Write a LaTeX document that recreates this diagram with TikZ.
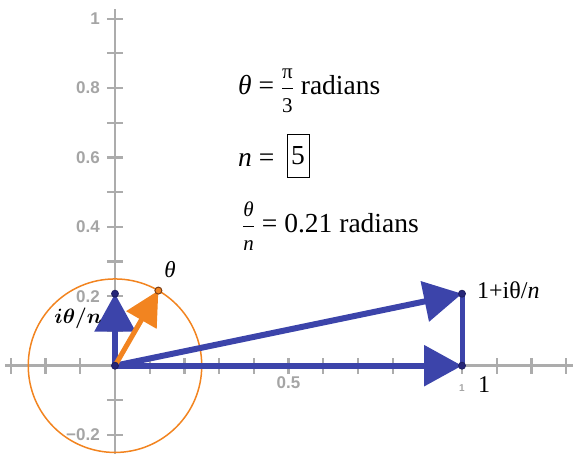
\documentclass[tikz,border=0pt]{standalone}
\usepackage{fontspec}
\usepackage{amsmath}
\setmainfont{Liberation Serif}
\newfontfamily\tnr{Liberation Serif}
\newfontfamily\axisfont{Liberation Sans}
\usetikzlibrary{arrows.meta}
\definecolor{vblue}{RGB}{60,68,170}
\definecolor{vdot}{RGB}{38,38,120}
\definecolor{vorange}{RGB}{242,132,32}
\definecolor{odot}{RGB}{120,60,20}
\definecolor{axgray}{RGB}{172,172,172}
\definecolor{labgray}{RGB}{165,165,165}
\newcommand{\fr}[2]{$\dfrac{\text{\tnr\fontsize{21}{23}\selectfont #1}}{\text{\tnr\fontsize{21}{23}\selectfont #2}}$}
\tikzset{
  axisline/.style={draw=axgray, line width=2.6pt},
  tickmark/.style={draw=axgray, line width=2.2pt},
  axlabel/.style={text=labgray, font=\axisfont\bfseries\fontsize{17}{19}\selectfont, inner sep=0pt},
  vec/.style={draw=vblue, line width=6pt, -{Triangle[length=38pt,width=40pt]}},
  seg/.style={draw=vblue, line width=5pt},
  ovec/.style={draw=vorange, line width=5pt, -{Triangle[length=34pt,width=34pt]}},
  bdot/.style={circle, fill=vdot, draw=vdot!80!black, line width=0.8pt, minimum size=7pt, inner sep=0pt},
  odotst/.style={circle, fill=vorange, draw=odot, line width=1pt, minimum size=7pt, inner sep=0pt},
  bigtext/.style={anchor=base west, inner sep=0pt, font=\tnr\fontsize{27.5}{31}\selectfont},
  lbl/.style={inner sep=0pt, font=\tnr\fontsize{24}{28}\selectfont}
}
\begin{document}
\begin{tikzpicture}
\useasboundingbox (-115pt,-88.3pt) rectangle (458pt,365.7pt);
% axes
\draw[axisline] (-110pt,0pt) -- (458pt,0pt);
\draw[axisline] (0pt,-88.3pt) -- (0pt,357pt);
\foreach \i in {-3,...,13} \draw[tickmark] (\i*34.7pt,-8pt) -- (\i*34.7pt,8pt);
\foreach \j in {-2,...,10} \draw[tickmark] (-8pt,\j*34.7pt) -- (8pt,\j*34.7pt);
% axis labels
\node[axlabel, anchor=east] (y1) at (-15pt,347pt) {1};
\node[axlabel, anchor=east] (y08) at (-15pt,277.6pt) {0.8};
\node[axlabel, anchor=east] (y06) at (-15pt,208.2pt) {0.6};
\node[axlabel, anchor=east] (y04) at (-15pt,138.8pt) {0.4};
\node[axlabel, anchor=east] (y02) at (-15pt,69.4pt) {0.2};
\node[axlabel, anchor=east] (ym02) at (-15pt,-69.4pt) {−0.2};
\node[axlabel] (x05) at (173.5pt,-17pt) {0.5};
\node[text=labgray, font=\axisfont\bfseries\fontsize{10}{12}\selectfont, inner sep=0pt] (x1) at (347pt,-22pt) {1};
% points
\coordinate (O) at (0pt,0pt);
\coordinate (A) at (0pt,72pt);
\coordinate (B) at (347pt,0pt);
\coordinate (C) at (347pt,72pt);
\coordinate (P) at (60:86.75pt);
% circle
\draw[vorange, line width=1.5pt] (O) circle (86.75pt);
% vectors
\draw[vec] (O) -- (B);
\draw[vec] (O) -- (C);
\draw[seg] (B) -- (C);
\draw[vec] (O) -- (A);
\draw[ovec] (O) -- (P);
\node[bdot] (dO) at (O) {};
\node[bdot] (dA) at (A) {};
\node[bdot] (dB) at (B) {};
\node[bdot] (dC) at (C) {};
\node[odotst] (dP) at (P) {};
% labels
\node[lbl, font=\tnr\itshape\fontsize{23}{26}\selectfont] (lth) at (55pt,95.7pt) {θ};
\node[lbl, font=\fontsize{20}{23}\selectfont] (lin) at (-37pt,47pt) {$\boldsymbol{i\theta/n}$};
\node[lbl, anchor=base west] (lC) at (362pt,66.7pt) {1+iθ/\textit{n}};
\node[lbl, anchor=base west, font=\tnr\fontsize{24}{28}\selectfont] (lB) at (363pt,-27.3pt) {1};
% text block
\node[bigtext] (t1) at (123pt,270.7pt) {\textit{θ} = \fr{π}{3} radians};
\node[bigtext] (t2) at (123pt,198.7pt) {\textit{n} =};
\node[draw, line width=0.9pt, minimum width=22pt, minimum height=43pt, inner sep=0pt, font=\tnr\fontsize{27.5}{31}\selectfont] (five) at (183pt,210.2pt) {5};
\node[bigtext] (t3) at (127pt,132.7pt) {\fr{\itshape θ}{\itshape n} = 0.21 radians};
\end{tikzpicture}
\end{document}
